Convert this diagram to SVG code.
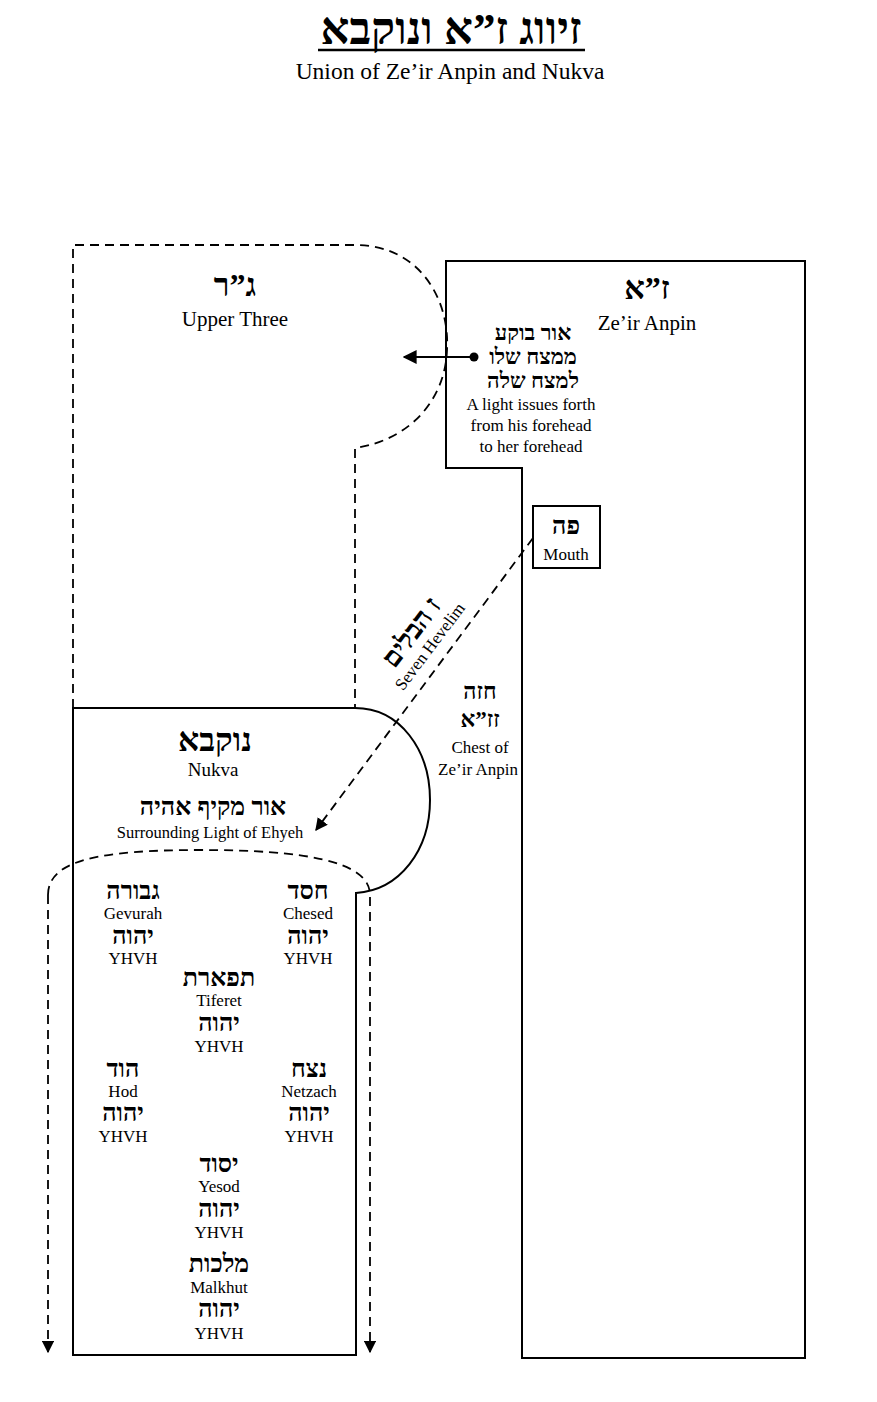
<svg xmlns="http://www.w3.org/2000/svg" width="877" height="1402" viewBox="0 0 877 1402">
<defs>
<marker id="ah" viewBox="0 0 10 10" refX="9" refY="5" markerWidth="7" markerHeight="7" orient="auto-start-reverse"><path d="M0,0 L10,5 L0,10 Z" fill="#000"/></marker>
<style>
text{font-family:"Liberation Serif","DejaVu Serif",serif;fill:#000;text-anchor:middle}
.h{font-size:25px;font-weight:bold}
.e{font-size:17px}
.s{fill:none;stroke:#000;stroke-width:2}
.d{fill:none;stroke:#000;stroke-width:1.8;stroke-dasharray:9,6}
</style>
</defs>
<rect width="877" height="1402" fill="#fff"/>
<g id="title">
<text x="451" y="44" style="font-size:45px;font-weight:bold">זיווג ז”א ונוקבא</text>
<line x1="318" y1="50" x2="585" y2="50" stroke="#000" stroke-width="2.5"/>
<text x="450" y="79" style="font-size:23.5px">Union of Ze’ir Anpin and Nukva</text>
</g>
<g id="upper-three">
<path class="d" d="M73,708 V245 H355 C420,245 450,300 447,350 C445,400 410,440 355,448 V708"/>
<text x="235" y="296" class="h" style="font-size:32px">ג”ר</text>
<text x="235" y="326" style="font-size:21px">Upper Three</text>
</g>
<g id="zeir-anpin">
<path class="s" d="M446,261 H805 V1358 H522 V468 H446 Z"/>
<text x="647" y="299" class="h" style="font-size:32px">ז”א</text>
<text x="647" y="330" style="font-size:21px">Ze’ir Anpin</text>
<text x="533" y="340" class="h" style="font-size:22px">אור בוקע</text>
<text x="533" y="364" class="h" style="font-size:22px">ממצח שלו</text>
<text x="533" y="388" class="h" style="font-size:22px">למצח שלה</text>
<text x="531" y="410" class="e">A light issues forth</text>
<text x="531" y="431" class="e">from his forehead</text>
<text x="531" y="452" class="e">to her forehead</text>
<text x="480" y="699" class="h" style="font-size:23px">חזה</text>
<text x="480" y="727" class="h" style="font-size:23px">זז”א</text>
<text x="480" y="753" class="e">Chest of</text>
<text x="478" y="775" class="e">Ze’ir Anpin</text>
</g>
<g id="mouth">
<rect class="s" x="533" y="506" width="67" height="62"/>
<text x="566" y="534" class="h">פה</text>
<text x="566" y="560" class="e">Mouth</text>
</g>
<g id="nukva">
<path class="s" d="M73,708 H355 C400,708 430,750 430,800 C430,850 400,890 356,893 V1355 H73 Z"/>
<text x="215" y="751" class="h" style="font-size:33px">נוקבא</text>
<text x="213" y="776" style="font-size:19px">Nukva</text>
<text x="213" y="815" class="h" style="font-size:25px">אור מקיף אהיה</text>
<text x="210" y="838" style="font-size:16.5px">Surrounding Light of Ehyeh</text>
</g>
<g id="sefirot">
<text x="133" y="899" class="h">גבורה</text><text x="133" y="919" class="e">Gevurah</text><text x="133" y="944" class="h">יהוה</text><text x="133" y="964" class="e">YHVH</text>
<text x="308" y="899" class="h">חסד</text><text x="308" y="919" class="e">Chesed</text><text x="308" y="944" class="h">יהוה</text><text x="308" y="964" class="e">YHVH</text>
<text x="219" y="986" class="h">תפארת</text><text x="219" y="1006" class="e">Tiferet</text><text x="219" y="1031" class="h">יהוה</text><text x="219" y="1052" class="e">YHVH</text>
<text x="123" y="1077" class="h">הוד</text><text x="123" y="1097" class="e">Hod</text><text x="123" y="1121" class="h">יהוה</text><text x="123" y="1142" class="e">YHVH</text>
<text x="309" y="1077" class="h">נצח</text><text x="309" y="1097" class="e">Netzach</text><text x="309" y="1121" class="h">יהוה</text><text x="309" y="1142" class="e">YHVH</text>
<text x="219" y="1172" class="h">יסוד</text><text x="219" y="1192" class="e">Yesod</text><text x="219" y="1217" class="h">יהוה</text><text x="219" y="1238" class="e">YHVH</text>
<text x="219" y="1272" class="h">מלכות</text><text x="219" y="1293" class="e">Malkhut</text><text x="219" y="1317" class="h">יהוה</text><text x="219" y="1339" class="e">YHVH</text>
</g>
<g id="connectors">
<path class="d" d="M48,895 C48,860 100,850 200,850 C300,850 370,860 370,895 V1352" marker-end="url(#ah)"/>
<path class="d" d="M48,895 V1352" marker-end="url(#ah)"/>
<circle cx="474" cy="357" r="4.5" fill="#000"/>
<line x1="474" y1="357" x2="404" y2="357" stroke="#000" stroke-width="2" marker-end="url(#ah)"/>
<line class="d" x1="533" y1="538" x2="316" y2="830" marker-end="url(#ah)"/>
<g transform="translate(428,645) rotate(-53)">
<text x="0" y="-12" class="h" style="font-size:27px">ז הבלים</text>
<text x="0" y="8" class="e">Seven Hevelim</text>
</g>
</g>
</svg>
